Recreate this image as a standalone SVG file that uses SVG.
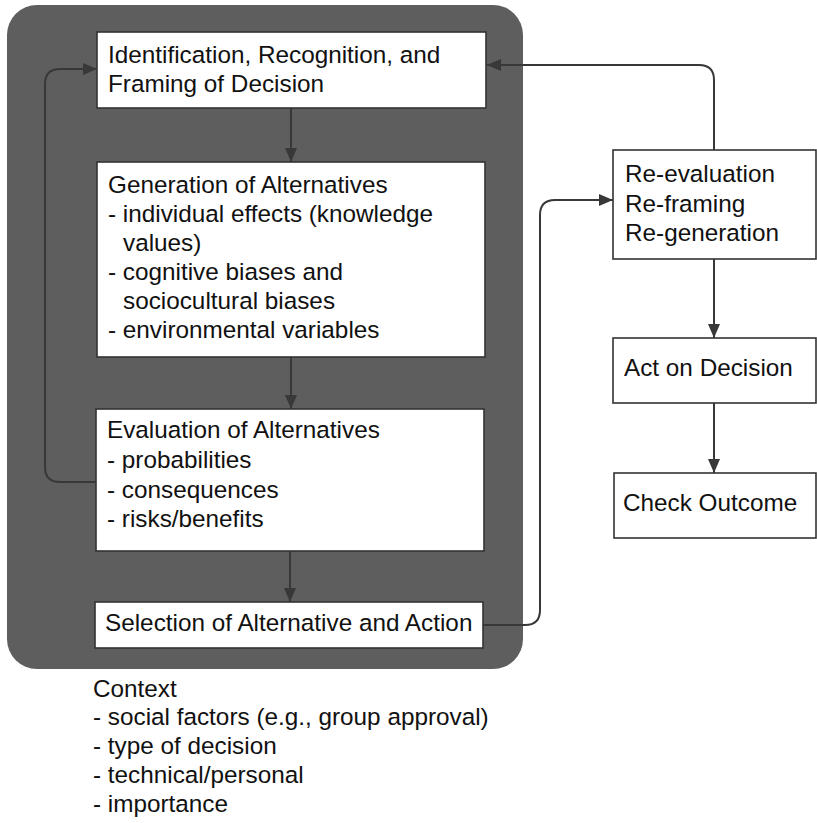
<svg xmlns="http://www.w3.org/2000/svg" width="817" height="823" viewBox="0 0 817 823">
<style>
text{font-family:"Liberation Sans",Arial,sans-serif;font-size:24.3px;fill:#111}
.box{fill:#fff;stroke:#333;stroke-width:1.6}
.con{fill:none;stroke:#383838;stroke-width:2}
</style>
<defs>
<marker id="ah" viewBox="0 0 14 12" refX="14" refY="6" markerWidth="14" markerHeight="12" markerUnits="userSpaceOnUse" orient="auto">
<path d="M0,0 L14,6 L0,12 Z" fill="#383838"/>
</marker>
</defs>
<rect width="817" height="823" fill="#fff"/>
<rect id="context-panel" x="7" y="5" width="516" height="664" rx="30" fill="#5e5e5e"/>
<g id="connectors">
<path class="con" d="M291,108 V162" marker-end="url(#ah)"/>
<path class="con" d="M291,357 V409" marker-end="url(#ah)"/>
<path class="con" d="M290,551 V602" marker-end="url(#ah)"/>
<path class="con" d="M96,482 H60 Q45,482 45,467 V84 Q45,69 60,69 H97" marker-end="url(#ah)"/>
<path class="con" d="M714,150 V80 Q714,65 699,65 H487" marker-end="url(#ah)"/>
<path class="con" d="M483,625 H525 Q540,625 540,610 V215 Q540,200 555,200 H613" marker-end="url(#ah)"/>
<path class="con" d="M714,259 V338" marker-end="url(#ah)"/>
<path class="con" d="M714,403 V473" marker-end="url(#ah)"/>
</g>
<g id="n-identification">
<rect class="box" x="97" y="32" width="389" height="76"/>
<text x="108" y="63">Identification, Recognition, and</text>
<text x="108" y="92">Framing of Decision</text>
</g>
<g id="n-generation">
<rect class="box" x="97" y="162" width="388" height="195"/>
<text x="108" y="193">Generation of Alternatives</text>
<text x="108" y="222">- individual effects (knowledge</text>
<text x="123" y="251">values)</text>
<text x="108" y="280">- cognitive biases and</text>
<text x="123" y="309">sociocultural biases</text>
<text x="108" y="338">- environmental variables</text>
</g>
<g id="n-evaluation">
<rect class="box" x="96" y="409" width="388" height="142"/>
<text x="107" y="438">Evaluation of Alternatives</text>
<text x="107" y="468">- probabilities</text>
<text x="107" y="498">- consequences</text>
<text x="107" y="527">- risks/benefits</text>
</g>
<g id="n-selection">
<rect class="box" x="95" y="602" width="388" height="46"/>
<text x="105" y="631">Selection of Alternative and Action</text>
</g>
<g id="n-reevaluation">
<rect class="box" x="613" y="150" width="203" height="109"/>
<text x="625" y="182">Re-evaluation</text>
<text x="625" y="212">Re-framing</text>
<text x="625" y="241">Re-generation</text>
</g>
<g id="n-act">
<rect class="box" x="613" y="338" width="203" height="65"/>
<text x="624" y="376">Act on Decision</text>
</g>
<g id="n-check">
<rect class="box" x="614" y="473" width="202" height="65"/>
<text x="623" y="511">Check Outcome</text>
</g>
<g id="context-text">
<text x="93" y="697">Context</text>
<text x="93" y="725">- social factors (e.g., group approval)</text>
<text x="93" y="754">- type of decision</text>
<text x="93" y="783">- technical/personal</text>
<text x="93" y="812">- importance</text>
</g>
</svg>
